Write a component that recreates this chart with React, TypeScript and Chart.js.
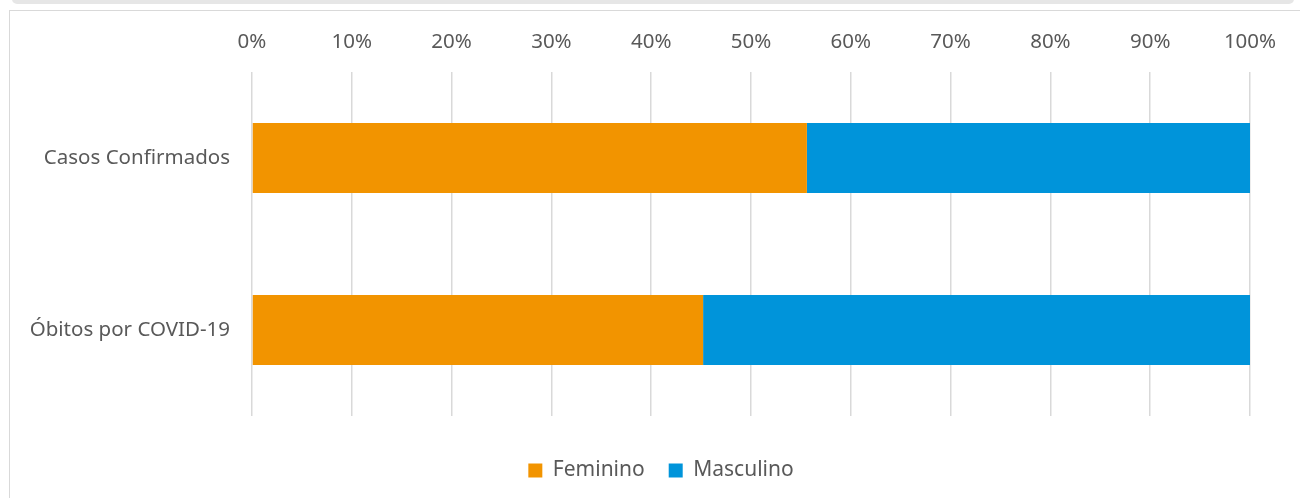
import React, { useEffect, useRef } from "react";
import { Chart, registerables } from "chart.js";

Chart.register(...registerables);

const categories = ["Casos Confirmados", "Óbitos por COVID-19"];
const feminino = [55.6, 45.2];
const masculino = [44.4, 54.8];
const seriesNames = ["Feminino", "Masculino"];
const seriesColors = ["#F29400", "#0094DA"];

const FONT = "'Noto Sans', sans-serif";

const shiftLegend = {
  id: "shiftLegend",
  afterLayout(chart: any) {
    const lg = chart.legend;
    if (lg) {
      lg.left = 72;
      lg.right = chart.chartArea.right;
    }
  },
};

export default function App() {
  const ref = useRef<HTMLCanvasElement | null>(null);

  useEffect(() => {
    if (!ref.current) return;
    const chart = new Chart(ref.current, {
      type: "bar",
      data: {
        labels: categories,
        datasets: [
          {
            label: seriesNames[0],
            data: feminino,
            backgroundColor: seriesColors[0],
            borderWidth: 0,
            barPercentage: 0.407,
            categoryPercentage: 1,
          },
          {
            label: seriesNames[1],
            data: masculino,
            backgroundColor: seriesColors[1],
            borderWidth: 0,
            barPercentage: 0.407,
            categoryPercentage: 1,
          },
        ],
      },
      plugins: [shiftLegend],
      options: {
        indexAxis: "y",
        animation: false,
        responsive: false,
        maintainAspectRatio: false,
        layout: { padding: { left: 0, right: 50, top: 0, bottom: 7 } },
        plugins: {
          tooltip: { enabled: false },
          legend: {
            position: "bottom",
            title: {
              display: true,
              text: " ",
              padding: { top: 5, bottom: 3 },
              font: { family: FONT, size: 10 },
            },
            labels: {
              boxWidth: 14,
              boxHeight: 14,
              padding: 24,
              color: "#595959",
              font: { family: FONT, size: 21 },
            },
          },
        },
        scales: {
          x: {
            position: "top",
            stacked: true,
            min: 0,
            max: 100,
            afterFit: (s: any) => {
              s.height = 72;
            },
            ticks: {
              stepSize: 10,
              callback: (v: any) => v + "%",
              color: "#595959",
              font: { family: FONT, size: 20.5 },
              padding: 18,
            },
            grid: { color: "#D9D9D9", lineWidth: 1.5, drawTicks: false },
            border: { display: false },
          },
          y: {
            stacked: true,
            afterFit: (s: any) => {
              s.width = 252;
            },
            ticks: {
              color: "#595959",
              font: { family: FONT, size: 20.5 },
              padding: 22,
            },
            grid: { display: false, drawTicks: false },
            border: { display: false },
          },
        },
      },
    });
    return () => chart.destroy();
  }, []);

  return (
    <div
      style={{
        position: "fixed",
        left: 0,
        top: 0,
        width: 1300,
        height: 498,
        background: "#fff",
        overflow: "hidden",
      }}
    >
      <div
        style={{
          position: "absolute",
          left: 12,
          top: -6,
          width: 1282,
          height: 10,
          background: "#E6E6E6",
          borderRadius: 5,
        }}
      />
      <div
        style={{
          position: "absolute",
          left: 9,
          top: 10,
          width: 1400,
          height: 600,
          borderLeft: "1px solid #D9D9D9",
          borderTop: "1px solid #D9D9D9",
        }}
      />
      <canvas
        ref={ref}
        width={1300}
        height={498}
        style={{ position: "absolute", left: 0, top: 0, width: 1300, height: 498 }}
      />
    </div>
  );
}
